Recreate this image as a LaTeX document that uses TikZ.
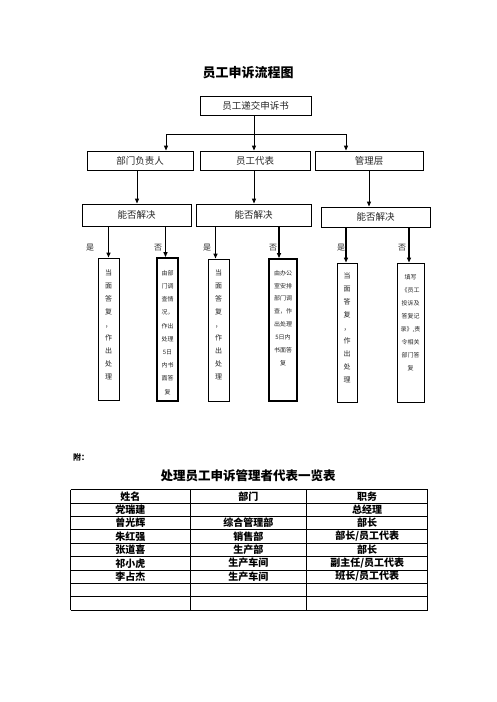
\documentclass[tikz,border=0pt]{standalone}
\usepackage{fontspec}
\setmainfont{Noto Sans CJK SC}
\usetikzlibrary{arrows.meta}
\tikzset{
  box/.style={draw, line width=0.9pt, inner sep=0pt, font=\fontsize{9.5}{11}\selectfont, text=black!85},
  vbox/.style={draw, line width=0.9pt, inner sep=0pt},
  thickbox/.style={draw, line width=1.8pt, inner sep=0pt},
  vtext/.style={align=center, inner sep=0pt, text=black!85},
  arr/.style={line width=0.9pt, -{Triangle[length=5pt,width=4pt]}},
  arrb/.style={line width=1.3pt, -{Triangle[length=5pt,width=4pt]}},
  lab/.style={font=\fontsize{8}{9}\selectfont, text=black!85, inner sep=0pt},
  cell/.style={font=\fontsize{10}{11}\selectfont\bfseries, inner sep=0pt},
  tline/.style={line width=0.8pt}
}
\begin{document}
\begin{tikzpicture}[x=1pt,y=-1pt]
\useasboundingbox (0,0) rectangle (496,702);
% title
\node[font=\fontsize{13}{14}\selectfont\bfseries] (title) at (248,73) {员工申诉流程图};
% top box
\node[box, minimum width=111pt, minimum height=19pt] (top) at (255.5,105.5) {员工递交申诉书};
% second row
\node[box, minimum width=106pt, minimum height=19pt] (b1) at (140,160.5) {部门负责人};
\node[box, minimum width=110pt, minimum height=19pt] (b2) at (255,160.5) {员工代表};
\node[box, minimum width=108pt, minimum height=19pt] (b3) at (369,160.5) {管理层};
% third row
\node[box, minimum width=109pt, minimum height=22pt] (c1) at (136.5,215) {能否解决};
\node[box, minimum width=115pt, minimum height=22pt] (c2) at (253.5,215) {能否解决};
\node[box, minimum width=109pt, minimum height=20pt] (c3) at (375.5,217) {能否解决};
% bottom boxes
\node[vbox, minimum width=21pt, minimum height=142pt] (d1) at (108.5,329) {};
\node[thickbox, minimum width=21pt, minimum height=143pt] (d2) at (167.5,329.5) {};
\node[vbox, minimum width=21pt, minimum height=142pt] (d3) at (218.5,330) {};
\node[thickbox, minimum width=28pt, minimum height=142pt] (d4) at (283,330) {};
\node[vbox, minimum width=20pt, minimum height=139pt] (d5) at (347,332.5) {};
\node[vbox, minimum width=27pt, minimum height=139pt] (d6) at (410.5,332.5) {};
% texts in bottom boxes
\node[vtext, font=\fontsize{7}{13}\selectfont] (t1) at (108.5,324.5) {当\\面\\答\\复\\，\\作\\出\\处\\理};
\node[vtext, font=\fontsize{6}{13.2}\selectfont] (t2) at (167.5,332.5) {由部\\门调\\查情\\况，\\作出\\处理\\5日\\内书\\面答\\复};
\node[vtext, font=\fontsize{7}{13}\selectfont] (t3) at (218.5,324.5) {当\\面\\答\\复\\，\\作\\出\\处\\理};
\node[vtext, font=\fontsize{6}{12.9}\selectfont] (t4) at (283,318) {由办公\\室安排\\部门调\\查，作\\出处理\\5日内\\书面答\\复};
\node[vtext, font=\fontsize{7}{13}\selectfont] (t5) at (347,328) {当\\面\\答\\复\\，\\作\\出\\处\\理};
\node[vtext, font=\fontsize{6}{13}\selectfont] (t6) at (410.5,322.5) {填写\\《员工\\投诉及\\答复记\\录》,责\\令相关\\部门答\\复};
% yes/no labels
\node[lab] (y1) at (90,248) {是};
\node[lab] (n1) at (158,248) {否};
\node[lab] (y2) at (207,248) {是};
\node[lab] (n2) at (273,248) {否};
\node[lab] (y3) at (341,248) {是};
\node[lab] (n3) at (402,248) {否};
% connectors top
\coordinate (j) at (254,134);
\coordinate (jl) at (166,134);
\coordinate (jr) at (346,134);
\draw[line width=0.9pt] (top.south -| j) -- (j);
\draw[line width=0.9pt] (jl) -- (jr);
\draw[arr] (jl) -- (jl |- b1.north);
\draw[arr] (j) -- (j |- b2.north);
\draw[arr] (jr) -- (jr |- b3.north);
% row2 to row3
\draw[arr] ([xshift=-3pt]b1.south) -- ([xshift=-3pt]b1.south |- c1.north);
\draw[arr] ([xshift=-1pt]b2.south) -- ([xshift=-1pt]b2.south |- c2.north);
\draw[arr] (b3.south) -- (b3.south |- c3.north);
% row3 to bottom
\draw[arrb] (d1.north |- c1.south) -- (d1.north);
\draw[arrb] ([xshift=-2pt]d2.north |- c1.south) -- ([xshift=-2pt]d2.north);
\draw[arrb] ([xshift=-3pt]d3.north |- c2.south) -- ([xshift=-3pt]d3.north);
\draw[arrb] ([xshift=-4pt]d4.north |- c2.south) -- ([xshift=-4pt]d4.north);
\draw[arrb] ([xshift=-1pt]d5.north |- c3.south) -- ([xshift=-1pt]d5.north);
\draw[arrb] ([xshift=-1.5pt]d6.north |- c3.south) -- ([xshift=-1.5pt]d6.north);
% appendix
\node[font=\fontsize{8}{9}\selectfont\bfseries, inner sep=0pt] (fu) at (81,457) {附：};
\node[font=\fontsize{12.5}{14}\selectfont\bfseries, inner sep=0pt] (ttitle) at (248,476) {处理员工申诉管理者代表一览表};
% table
\foreach \k in {0,...,9} {
  \draw[tline] (70.7,{489.5+13.4*\k}) -- (427.7,{489.5+13.4*\k});
}
\foreach \xx in {70.7,190,306.7,427.7} {
  \draw[tline] (\xx,489.5) -- (\xx,610.1);
}
\foreach \r/\a/\b/\c in {0/姓名/部门/职务, 1/党瑞建//总经理, 2/曾光辉/综合管理部/部长, 3/朱红强/销售部/{部长/员工代表}, 4/张道喜/生产部/部长, 5/祁小虎/生产车间/{副主任/员工代表}, 6/李占杰/生产车间/{班长/员工代表}} {
  \node[cell] (ca\r) at (130.3,{489.5+13.4*(\r+0.5)}) {\a};
  \node[cell] (cb\r) at (248.3,{489.5+13.4*(\r+0.5)}) {\b};
  \node[cell] (cc\r) at (367.2,{489.5+13.4*(\r+0.5)}) {\c};
}
\end{tikzpicture}
\end{document}
